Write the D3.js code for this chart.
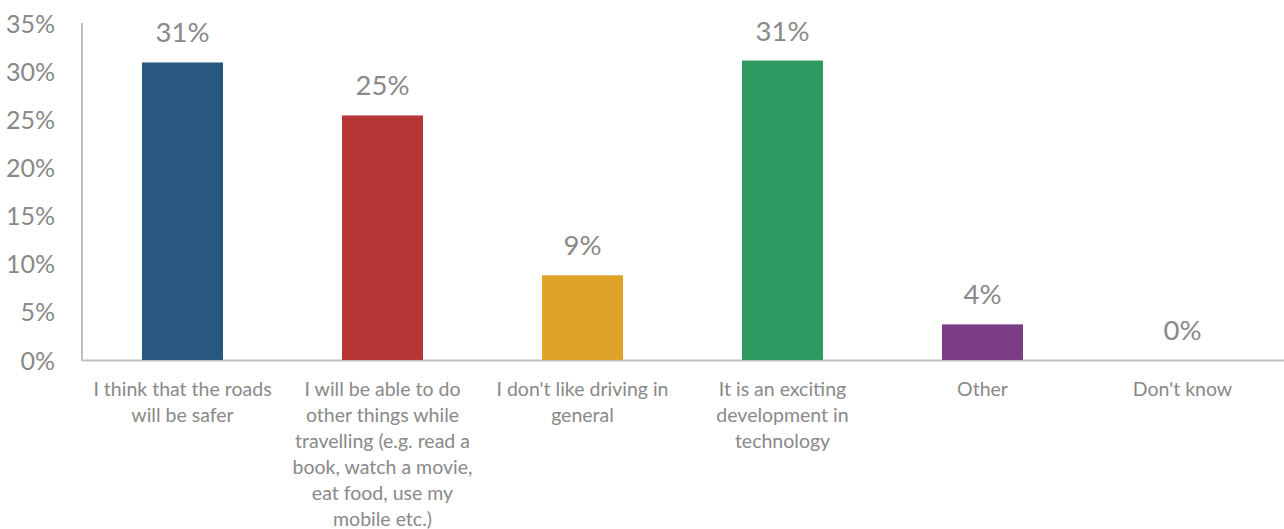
<!DOCTYPE html>
<html>
<head>
<meta charset="utf-8">
<script src="https://cdn.jsdelivr.net/npm/d3@7"></script>
<style>
  html, body { margin: 0; padding: 0; background: #fff; }
  svg { display: block; }
  text { font-family: Lato, "Open Sans", sans-serif; fill: #898989; }
</style>
</head>
<body>
<svg id="chart" width="1284" height="529"></svg>
<script>
// Reasons given (share of respondents, %)
const categories = [
  "I think that the roads\nwill be safer",
  "I will be able to do\nother things while\ntravelling (e.g. read a\nbook, watch a movie,\neat food, use my\nmobile etc.)",
  "I don't like driving in\ngeneral",
  "It is an exciting\ndevelopment in\ntechnology",
  "Other",
  "Don't know"
];
const values = [30.9, 25.4, 8.8, 31.1, 3.7, 0];
const colors = ["#28577f", "#b83536", "#e0a227", "#2e9a61", "#7a3d86", "#8c8c8c"];
const yTicks = [0, 5, 10, 15, 20, 25, 30, 35];

(function draw() {
  const svg = d3.select("#chart");
  const plotLeft = 82.5, plotRight = 1282.5, plotTop = 23, plotBottom = 360;

  const x = d3.scaleBand()
    .domain(categories)
    .range([plotLeft, plotRight])
    .paddingInner(0.595)
    .paddingOuter(0.2975);

  const y = d3.scaleLinear().domain([0, 35]).range([plotBottom, plotTop]);

  const pct = v => d3.format(".0f")(v) + "%";

  // Y axis tick labels (no tick marks or gridlines)
  const yAxis = d3.axisLeft(y).tickValues(yTicks).tickFormat(pct).tickSize(0).tickPadding(0);
  const gy = svg.append("g").attr("transform", "translate(55,0)").call(yAxis);
  gy.select(".domain").remove();
  gy.selectAll("text")
    .attr("dy", "0.36em")
    .style("font-size", "25px")
    .style("fill", "#898989")
    .style("font-family", "Lato, 'Open Sans', sans-serif");

  // Axis lines
  svg.append("line")
    .attr("x1", plotLeft - 0.5).attr("x2", plotLeft - 0.5)
    .attr("y1", plotTop).attr("y2", plotBottom + 1)
    .attr("stroke", "#bfbfbf").attr("stroke-width", 2);
  svg.append("line")
    .attr("x1", plotLeft - 0.5).attr("x2", 1284)
    .attr("y1", plotBottom + 0.5).attr("y2", plotBottom + 0.5)
    .attr("stroke", "#bfbfbf").attr("stroke-width", 2);

  // Bars
  svg.append("g").selectAll("rect")
    .data(values)
    .join("rect")
    .attr("x", (d, i) => x(categories[i]))
    .attr("width", x.bandwidth())
    .attr("y", d => y(d))
    .attr("height", d => y(0) - y(d))
    .attr("fill", (d, i) => colors[i]);

  // Value labels above bars
  svg.append("g").selectAll("text")
    .data(values)
    .join("text")
    .attr("x", (d, i) => x(categories[i]) + x.bandwidth() / 2)
    .attr("y", d => y(d) - 20)
    .attr("text-anchor", "middle")
    .style("font-size", "27.5px")
    .text(d => pct(d));

  // Category labels under the axis
  const catG = svg.append("g");
  categories.forEach(c => {
    const cx = x(c) + x.bandwidth() / 2;
    const t = catG.append("text")
      .attr("x", cx)
      .attr("y", 396)
      .attr("text-anchor", "middle")
      .style("font-size", "19.5px");
    c.split("\n").forEach((line, j) => {
      t.append("tspan")
        .attr("x", cx)
        .attr("dy", j === 0 ? 0 : 26)
        .text(line);
    });
  });
})();
</script>
</body>
</html>
